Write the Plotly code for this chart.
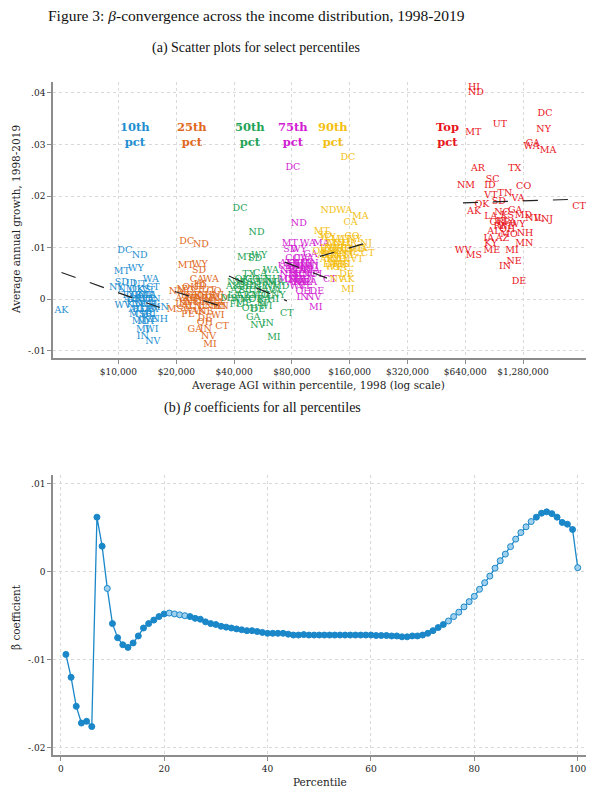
import numpy as np
import plotly.graph_objects as go

# ---------------- Panel (a) data: state labels, 1998 AGI, growth ----------------
p10_states = ["AK","DC","ND","MT","WY","WA","NV","IN","MI","WI","NH","NE","MN","WV","NY","CT",
              "SD","ID","UT","NM","OK","KS","VT","TX","OR","CO","SC","ME","IA",
              "AZ","AR","NJ","MO","VA","TN","KY","LA","NC","OH","IL","AL","FL","GA","DE","PA",
              "MS","CA","HI","RI","MD","MA"]
p10_agi = [5050,10780,12910,10400,12310,14730,15090,13390,13390,14900,16400,14560,16400,10530,9740,15090,
           10400,11700,12900,11000,12400,13500,14300,11200,12000,12700,13300,14000,14800,
           11500,12100,12900,13600,14200,15200,11900,12600,13400,14300,15500,12200,12800,13600,14200,15000,
           12500,13200,14000,14700,13000,13800]
p10_growth = [-0.0022,0.0094,0.0084,0.0054,0.0059,0.0039,-0.0082,-0.0073,-0.0058,-0.0058,-0.0040,-0.0040,-0.0017,-0.0013,0.0022,0.0022,
              0.0032,0.0030,0.0028,0.0018,0.0018,0.0018,0.0016,0.0008,0.0008,0.0008,0.0008,0.0008,0.0008,
              -0.0001,-0.0001,-0.0001,-0.0001,-0.0001,-0.0001,-0.0011,-0.0011,-0.0011,-0.0011,-0.0011,-0.0021,-0.0021,-0.0021,-0.0021,-0.0021,
              -0.0030,-0.0030,-0.0030,-0.0030,-0.0044,-0.0044]

p25_states = ["DC","ND","MT","WY","SD","CA","WA","HI","OK","NM","LA","MS","FL","WI","DE","OH","CT","GA","IN","NV","MI","MN",
              "ID","NY","VT","UT","CO","TX","OR","KS","ME","NJ","AZ","AR","IA","MO","VA","MD",
              "KY","NC","SC","PA","MA","AL","TN","IL","NH","RI","WV","AK","NE"]
p25_agi = [22700,26900,22430,26500,26300,25600,30300,26500,23530,20370,21370,19660,22970,32930,28200,28200,34600,25000,28510,29500,30000,33700,
           27000,21900,25500,29500,31500,22500,24500,26800,29000,33000,21500,23500,25500,27800,30500,33500,
           22300,24300,26500,29000,32000,23000,25000,27500,31000,34000,24000,26000,28500]
p25_growth = [0.0112,0.0105,0.0065,0.0068,0.0055,0.0039,0.0039,0.0028,0.0023,0.0015,-0.0011,-0.0021,-0.0030,-0.0032,-0.0037,-0.0045,-0.0053,-0.0058,-0.0058,-0.0073,-0.0087,-0.0014,
              0.0024,0.0018,0.0017,0.0016,0.0014,0.0008,0.0008,0.0008,0.0008,0.0008,0.0001,0.0001,0.0001,0.0001,0.0001,0.0001,
              -0.0007,-0.0007,-0.0007,-0.0007,-0.0007,-0.0015,-0.0015,-0.0015,-0.0015,-0.0015,-0.0023,-0.0023,-0.0023]

p50_states = ["DC","ND","MT","WY","SD","TX","CA","WA","MS","FL","OH","DE","WI","CT","GA","NV","IN","MI",
              "OK","CO","UT","NH","NM","KS","VT","MN","MA","AK","AR","ID","NE","NJ","MD",
              "AZ","SC","TN","IA","VA","LA","AL","KY","MO","IL","NY","WV","NC","OR","PA","HI","ME","RI"]
p50_agi = [43000,52400,45700,54200,51500,47800,54600,62200,37600,40900,48300,53200,58600,75400,50300,53200,60000,64500,
           44000,50000,56000,63000,41000,46500,52000,58000,66000,39500,44000,49000,55000,62000,70000,
           41500,46000,51000,57000,65000,40000,44500,49500,54500,60000,68000,42500,47000,52000,57500,64000,45000,56000]
p50_growth = [0.0176,0.0130,0.0081,0.0085,0.0078,0.0047,0.0050,0.0055,0.0001,-0.0011,-0.0019,-0.0021,-0.0015,-0.0027,-0.0035,-0.0051,-0.0047,-0.0074,
              0.0039,0.0039,0.0039,0.0039,0.0032,0.0032,0.0032,0.0032,0.0032,0.0024,0.0024,0.0024,0.0024,0.0024,0.0024,
              0.0016,0.0016,0.0016,0.0016,0.0016,0.0008,0.0008,0.0008,0.0008,0.0008,0.0008,0.0000,0.0000,0.0000,0.0000,0.0000,-0.0009,-0.0009]

p75_states = ["DC","ND","MT","WA","MA","SD","WY","GA","CT","OH","DE","IN","NV","MI",
              "CO","CA","VA","AK","TX","NJ","MD","MN","UT","ID","NH","IL","NY","WI",
              "NE","AZ","KS","OR","RI","PA","NM","IA","SC","TN","NC","FL",
              "MS","OK","ME","MO","HI","AR","KY","AL","LA","WV","VT"]
p75_agi = [81000,87000,78100,97000,114000,78500,87000,100000,126000,92000,108000,91000,104000,106700,
           81000,89000,96000,75000,80000,86000,92000,99000,73600,79000,84000,90000,96000,102000,
           76000,81000,86000,91000,97000,104000,77000,82000,87000,93000,99000,110000,
           75000,80000,85000,91000,97000,82000,88000,94000,100000,86000,93000]
p75_growth = [0.0256,0.0147,0.0107,0.0107,0.0107,0.0096,0.0096,0.0087,0.0038,0.0015,0.0015,0.0003,0.0003,-0.0016,
              0.0078,0.0078,0.0078,0.0070,0.0070,0.0070,0.0070,0.0070,0.0063,0.0063,0.0063,0.0063,0.0063,0.0063,
              0.0055,0.0055,0.0055,0.0055,0.0055,0.0055,0.0047,0.0047,0.0047,0.0047,0.0047,0.0047,
              0.0039,0.0039,0.0039,0.0039,0.0039,0.0032,0.0032,0.0032,0.0032,0.0024,0.0024]

p90_states = ["DC","ND","WA","MA","CA","MT","SD","WY","CO","NJ","MD","CT","IL","NV","AK","DE","MI",
              "VA","UT","NY","TX","MN","NH","OR","ID","NE","WI","RI","PA","IA",
              "OK","KS","SC","TN","OH","AZ","NM","IN","NC","FL","AR","KY","MO","HI","VT",
              "LA","ME","MS","AL","WV","GA"]
p90_agi = [156700,124000,150000,182000,162000,114700,118900,123000,164500,194500,174600,199200,168400,138000,156000,154000,156700,
           140000,150000,170000,128000,136000,145000,160000,120000,129000,137000,146000,155000,185000,
           112000,124000,133000,142000,150000,118000,127000,136000,145000,160000,122000,131000,140000,150000,175000,
           126000,135000,145000,155000,132000,142000]
p90_growth = [0.0275,0.0171,0.0172,0.0160,0.0149,0.0132,0.0123,0.0120,0.0121,0.0108,0.0097,0.0089,0.0090,0.0039,0.0039,0.0047,0.0019,
              0.0115,0.0115,0.0115,0.0107,0.0107,0.0107,0.0107,0.0099,0.0099,0.0099,0.0099,0.0099,0.0099,
              0.0092,0.0092,0.0092,0.0092,0.0092,0.0084,0.0084,0.0084,0.0084,0.0084,0.0076,0.0076,0.0076,0.0076,0.0076,
              0.0068,0.0068,0.0068,0.0068,0.0061,0.0061]

top_states = ["HI","ND","UT","MT","DC","NY","CA","WA","MA","AR","TX","NM","SC","ID","CO","VT","TN","VA","OK","SD",
              "AK","CT","LA","NC","GA","KS","MD","NV","IL","NJ","OR","PA","FL","RI","WI","AL","MO","NH","IA","KY",
              "MN","WV","MS","ME","MI","NE","IN","DE","OH","AZ","WY"]
top_agi = [710700,728000,971000,705000,1666000,1640000,1440000,1420000,1730000,745800,1160000,645800,890000,860000,1290000,871000,1030000,1205000,782000,959000,
           712000,2505000,871000,995000,1165000,1060000,1287000,1442000,1550000,1706000,936000,1095000,1000000,959000,1031000,903000,1082000,1311000,850000,871000,
           1300000,622800,710700,882000,1121000,1149000,1031000,1219000,1060000,1000000,1200000]
top_growth = [0.0411,0.0400,0.0339,0.0323,0.0359,0.0328,0.0302,0.0295,0.0289,0.0254,0.0254,0.0221,0.0231,0.0220,0.0218,0.0200,0.0204,0.0196,0.0184,0.0189,
              0.0170,0.0180,0.0160,0.0168,0.0171,0.0163,0.0163,0.0156,0.0156,0.0154,0.0148,0.0148,0.0150,0.0141,0.0141,0.0131,0.0126,0.0128,0.0118,0.0108,
              0.0108,0.0095,0.0084,0.0094,0.0094,0.0073,0.0064,0.0034,0.0135,0.0118,0.0145]

# fitted-line values (start, end)
fit_start = [0.0052, 0.0015, 0.0045, 0.0072, 0.0083, 0.0187]
fit_end = [-0.0016, -0.0014, -0.0003, 0.0039, 0.0110, 0.0194]

group_names = ["10th<br>pct", "25th<br>pct", "50th<br>pct", "75th<br>pct", "90th<br>pct", "Top<br>pct"]
group_label_x = [12160, 24300, 48340, 81000, 130900, 518500]
group_label_y = 0.0320
group_colors = ["#1f8fd2", "#e0691c", "#1fa356", "#d21dd2", "#f4bf12", "#e8141b"]

x_ticks = [10000, 20000, 40000, 80000, 160000, 320000, 640000, 1280000]
x_tick_text = ["$10,000", "$20,000", "$40,000", "$80,000", "$160,000", "$320,000", "$640,000", "$1,280,000"]
ya_ticks = [-0.01, 0, 0.01, 0.02, 0.03, 0.04]
ya_tick_text = ["-.01", "0", ".01", ".02", ".03", ".04"]

# ---------------- Panel (b) data: beta by percentile ----------------
percentile = list(range(1, 101))
beta = [-0.0094,-0.0120,-0.0153,-0.0172,-0.0170,-0.0176,0.0062,0.0029,-0.0019,-0.0059,
        -0.0075,-0.0083,-0.0086,-0.0081,-0.0073,-0.0064,-0.0059,-0.0055,-0.0051,-0.0048,
        -0.0047,-0.0048,-0.0049,-0.0050,-0.0051,-0.0053,-0.0054,-0.0057,-0.0059,-0.0060,
        -0.0062,-0.0063,-0.0064,-0.0065,-0.0066,-0.0067,-0.0067,-0.0068,-0.0069,-0.0070,
        -0.0070,-0.0070,-0.0070,-0.0071,-0.0072,-0.0072,-0.00715,-0.0072,-0.0072,-0.0072,
        -0.0072,-0.0072,-0.0072,-0.0072,-0.0072,-0.0072,-0.0072,-0.0072,-0.0072,-0.0072,
        -0.00725,-0.00725,-0.00725,-0.0073,-0.0073,-0.0074,-0.0074,-0.0073,-0.0073,-0.0072,
        -0.0070,-0.0067,-0.00635,-0.0060,-0.0056,-0.0051,-0.0046,-0.0040,-0.0034,-0.0028,
        -0.0020,-0.00125,-0.0005,0.0004,0.00125,0.0020,0.00285,0.0037,0.00445,0.0051,
        0.0057,0.0062,0.00665,0.0068,0.0066,0.0062,0.0056,0.0054,0.0048,0.00046]
open_marker = [9, 21, 22, 23, 24] + list(range(75, 92)) + [100]
yb_ticks = [-0.02, -0.01, 0, 0.01]
yb_tick_text = ["-.02", "-.01", "0", ".01"]
xb_ticks = [0, 20, 40, 60, 80, 100]

# ---------------- Figure ----------------
# the page body adds an 8px offset; the figure is sized so that page pixels line up
OFF = 8
W, H = 600 - OFF, 798 - OFF
ML = 53 - OFF
MT_ = 82 - OFF
MR = W - (586 - OFF)
MB = H - (755 - OFF)
PH = H - MT_ - MB
PW = W - ML - MR

def py(pix):
    return (H - MB - (pix - OFF)) / PH

def px(pix):
    return ((pix - OFF) - ML) / PW

serif = "DejaVu Serif"
title_font = "Liberation Serif"
fig = go.Figure()

groups = [(p10_states, p10_agi, p10_growth), (p25_states, p25_agi, p25_growth),
          (p50_states, p50_agi, p50_growth), (p75_states, p75_agi, p75_growth),
          (p90_states, p90_agi, p90_growth), (top_states, top_agi, top_growth)]

for i, (st, agi, gr) in enumerate(groups):
    fig.add_trace(go.Scatter(x=agi, y=gr, mode="text", text=st, textposition="middle center",
                             textfont=dict(family=serif, size=9.5, color=group_colors[i]),
                             xaxis="x", yaxis="y", showlegend=False, hoverinfo="skip",
                             cliponaxis=False))
for i, (st, agi, gr) in enumerate(groups):
    fig.add_trace(go.Scatter(x=[min(agi), max(agi)], y=[fit_start[i], fit_end[i]], mode="lines",
                             line=dict(color="#222222", width=1.2, dash="longdash"),
                             xaxis="x", yaxis="y", showlegend=False, hoverinfo="skip"))

fill_colors = ["#9fd0ee" if p in open_marker else "#1a87c9" for p in percentile]
fig.add_trace(go.Scatter(x=percentile, y=beta, mode="lines+markers",
                         line=dict(color="#1a87c9", width=1.3),
                         marker=dict(size=6, color=fill_colors, line=dict(color="#1a87c9", width=1)),
                         xaxis="x2", yaxis="y2", showlegend=False))

grid = dict(showgrid=True, gridcolor="#d9d9d9", griddash="dot", gridwidth=1)
axis_common = dict(showline=True, linecolor="#8c8c8c", linewidth=1.5, ticks="outside",
                   ticklen=4, tickcolor="#8c8c8c", zeroline=False, automargin=False,
                   tickfont=dict(family=serif, size=9, color="#222222"))

fig.update_layout(
    width=W, height=H, paper_bgcolor="white", plot_bgcolor="white",
    margin=dict(l=ML, r=MR, t=MT_, b=MB),
    xaxis=dict(domain=[0, 1], anchor="y", type="log", range=[np.log10(4561), np.log10(2725000)],
               tickvals=x_ticks, ticktext=x_tick_text, **grid, **axis_common),
    yaxis=dict(domain=[py(358), 1], anchor="x", range=[-0.01138, 0.04211],
               tickvals=ya_ticks, ticktext=ya_tick_text, **grid, **axis_common),
    xaxis2=dict(domain=[0, 1], anchor="y2", range=[-1.5, 101.6], tickvals=xb_ticks,
                **grid, **axis_common),
    yaxis2=dict(domain=[0, py(475)], anchor="x2", range=[-0.02083, 0.01099],
                tickvals=yb_ticks, ticktext=yb_tick_text, **grid, **axis_common),
)

ann = []
for i in range(6):
    ann.append(dict(x=np.log10(group_label_x[i]), y=group_label_y, xref="x", yref="y",
                    text="<b>" + group_names[i] + "</b>", showarrow=False,
                    font=dict(family=serif, size=11.5, color=group_colors[i]),
                    xanchor="center", yanchor="middle"))
ann += [
    dict(x=px(256), y=py(16), xref="paper", yref="paper", showarrow=False,
         text="Figure 3: <i>β</i>-convergence across the income distribution, 1998-2019",
         font=dict(family=title_font, size=15.5, color="#111111"), xanchor="center", yanchor="middle"),
    dict(x=px(256), y=py(48), xref="paper", yref="paper", showarrow=False,
         text="(a) Scatter plots for select percentiles",
         font=dict(family=title_font, size=14, color="#111111"), xanchor="center", yanchor="middle"),
    dict(x=px(262), y=py(408), xref="paper", yref="paper", showarrow=False,
         text="(b) <i>β</i> coefficients for all percentiles",
         font=dict(family=title_font, size=14, color="#111111"), xanchor="center", yanchor="middle"),
    dict(x=px(318), y=py(385), xref="paper", yref="paper", showarrow=False,
         text="Average AGI within percentile, 1998 (log scale)",
         font=dict(family=serif, size=10.5, color="#222222"), xanchor="center", yanchor="middle"),
    dict(x=px(320), y=py(782), xref="paper", yref="paper", showarrow=False,
         text="Percentile",
         font=dict(family=serif, size=10.5, color="#222222"), xanchor="center", yanchor="middle"),
    dict(x=px(16), y=py(220), xref="paper", yref="paper", showarrow=False, textangle=-90,
         text="Average annual growth, 1998-2019",
         font=dict(family=serif, size=10.5, color="#222222"), xanchor="center", yanchor="middle"),
    dict(x=px(16), y=py(617), xref="paper", yref="paper", showarrow=False, textangle=-90,
         text="β coefficient",
         font=dict(family=serif, size=10.5, color="#222222"), xanchor="center", yanchor="middle"),
]
fig.update_layout(annotations=ann)

fig.write_html("out.html")
